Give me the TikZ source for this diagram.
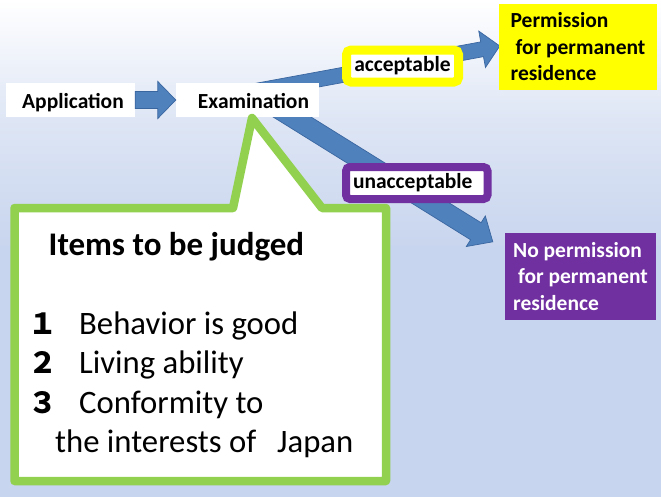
\documentclass[tikz,border=0pt]{standalone}
\usepackage{fontspec}
\setmainfont{Carlito}
\newfontfamily\cjk{Noto Sans CJK JP}
\usetikzlibrary{calc}
\definecolor{bgblue}{HTML}{C8D5EE}
\definecolor{bgmid}{HTML}{DEE6F5}
\definecolor{arrfill}{HTML}{4F81BD}
\definecolor{arrdraw}{HTML}{3A66A0}
\definecolor{okyel}{HTML}{FFFF00}
\definecolor{ngpur}{HTML}{7030A0}
\definecolor{callgreen}{HTML}{92D050}
\pgfdeclareverticalshading{bgshade}{100bp}{color(0bp)=(bgblue); color(25bp)=(bgblue); color(50bp)=(bgblue); color(63bp)=(bgmid); color(75bp)=(white); color(100bp)=(white)}
\pgfdeclarelayer{bg}\pgfdeclarelayer{arr}\pgfsetlayers{bg,arr,main}
\newcommand{\blockarrow}[5]{%
  \path ($(#2)!#5!(#1)$) coordinate (hb);
  \path[arrowshape] ($(#1)!#3!90:(#2)$) -- ($(hb)!#3!90:(#2)$) -- ($(hb)!#4!90:(#2)$) -- (#2) -- ($(hb)!#4!-90:(#2)$) -- ($(hb)!#3!-90:(#2)$) -- ($(#1)!#3!-90:(#2)$) -- cycle;}
\newcommand{\itemdigit}[1]{\makebox[51pt][l]{\cjk\bfseries\fontsize{29}{39.5}\selectfont #1}}
\begin{document}
\begin{tikzpicture}[x=1pt,y=-1pt,
  box/.style={fill=white, inner sep=0pt, font=\fontsize{21.5}{26.5}\selectfont\bfseries},
  arrowshape/.style={fill=arrfill, draw=arrdraw, line width=0.7pt, line join=miter},
  callout/.style={draw=callgreen, line width=8.5pt, line join=round, fill=white},
  headtxt/.style={anchor=base west, inner sep=0pt, font=\fontsize{33}{39}\selectfont\bfseries},
  itemtxt/.style={anchor=base west, inner sep=0pt, font=\fontsize{32.7}{39.5}\selectfont}]
\begin{pgfonlayer}{bg}
  \shade[shading=bgshade] (0,0) rectangle (661,496);
\end{pgfonlayer}
\useasboundingbox (0,0) rectangle (661,496);
% boxes
\node[box, minimum width=129pt, minimum height=34pt, text height=20pt, text depth=3.4pt] (app) at (70.5,100) {\hspace*{5pt}Application};
\node[box, minimum width=143pt, minimum height=34pt, text height=20pt, text depth=3.4pt] (ex) at (247.5,100) {\hspace*{12pt}Examination};
\node[box, fill=okyel, minimum width=158pt, minimum height=86pt, align=left] (pr) at (578,47) {Permission\\\hspace*{5pt}for permanent\hspace*{6pt}\\residence};
\node[box, fill=ngpur, text=white, minimum width=151pt, minimum height=87pt, align=left] (np) at (580.5,276.5) {No permission\\\hspace*{5pt}for permanent\\residence};
\node[box, draw=okyel, line width=9pt, rounded corners=4.5pt, minimum width=112pt, minimum height=32pt, text height=15pt, text depth=3.6pt] (ok) at (402.5,66) {acceptable};
\node[box, draw=ngpur, line width=8pt, rounded corners=4pt, minimum width=141.5pt, minimum height=32pt, text height=14.5pt, text depth=3.9pt] (ng) at (416.75,183) {unacceptable\hspace*{8pt}};
% block arrows behind the boxes
\coordinate (upT) at ($(ex.center)+(2.5,-8)$);
\coordinate (upH) at ($(pr.west)+(1,-1)$);
\coordinate (dnT) at ($(ex.center)+(28.5,7)$);
\coordinate (dnH) at ($(np.north west)+(-12,9)$);
\begin{pgfonlayer}{arr}
  \blockarrow{upT}{upH}{7.5pt}{18.5pt}{18pt}
  \blockarrow{dnT}{dnH}{10pt}{18pt}{20pt}
\end{pgfonlayer}
\blockarrow{app.east}{ex.west}{8.5pt}{18.5pt}{18pt}
% callout
\path[callout] (14.5,208) -- (233,208) -- (252,118) -- (322,208) -- (386,208) -- (386,481) -- (14.5,481) -- cycle;
\node[headtxt] (hd) at (48.5,255) {Items to be judged};
\node[itemtxt] (i1) at (28,334) {\itemdigit{１}Behavior is good};
\node[itemtxt] (i2) at (28,373.5) {\itemdigit{２}Living ability};
\node[itemtxt] (i3) at (28,413) {\itemdigit{３}Conformity to};
\node[itemtxt] (i4) at (55,452.5) {the interests of\hspace{21pt}Japan};
\end{tikzpicture}
\end{document}
